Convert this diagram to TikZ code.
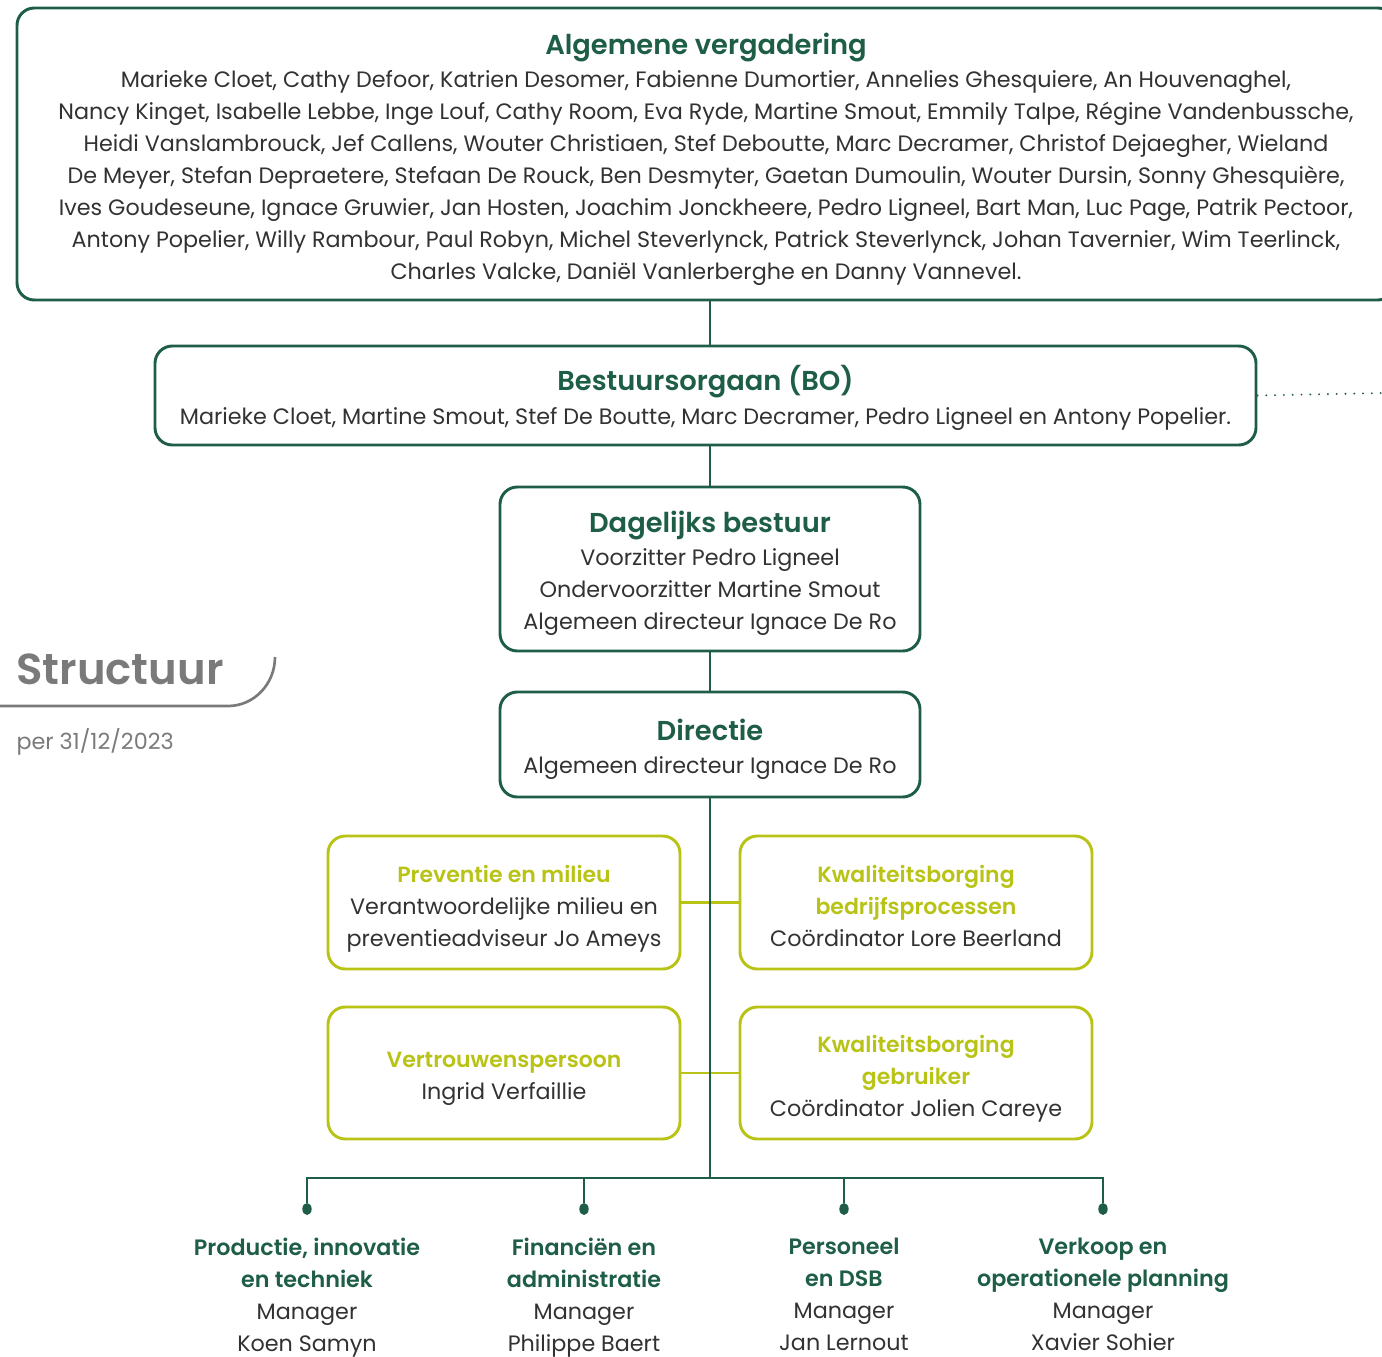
\documentclass[tikz,border=0pt]{standalone}
\usepackage{fontspec}
\IfFontExistsTF{Poppins SemiBold}
  {\setmainfont{Poppins}[BoldFont={Poppins SemiBold}]}
  {\setmainfont{Poppins}}
\usetikzlibrary{positioning,shapes.geometric}

\definecolor{dkgreen}{RGB}{30,94,70}
\definecolor{limegrn}{RGB}{184,195,22}
\definecolor{txtgray}{RGB}{50,50,50}
\definecolor{ttlgray}{RGB}{122,122,122}

\tikzset{every picture/.style={line width=0.75pt}}
\tikzset{
  greenbox/.style={draw=dkgreen, line width=2.2pt, rounded corners=13pt, inner sep=0pt},
  limebox/.style={greenbox, draw=limegrn},
  boxtext/.style={align=center, text=txtgray, font=\fontsize{16.7}{24}\selectfont, inner sep=0pt},
  link/.style={draw=dkgreen, line width=2.2pt},
  limelink/.style={draw=limegrn, line width=2.2pt},
  busdot/.style={ellipse, fill=dkgreen, inner sep=0pt, minimum width=7pt, minimum height=9pt},
}
\newcommand{\gtitle}[1]{{\color{dkgreen}\bfseries\fontsize{20.5}{24}\selectfont #1}}
\newcommand{\ltitle}[1]{{\color{limegrn}\bfseries\fontsize{16.5}{24}\selectfont #1}}
\newcommand{\utitle}[1]{{\color{dkgreen}\bfseries #1}}

\begin{document}
\begin{tikzpicture}[x=0.75pt,y=0.75pt,yscale=-1,xscale=1]
  \useasboundingbox (0,0) rectangle (1382,1357);
  \clip (0,0) rectangle (1382,1357);

  %Shape: Rounded Rectangle [algemene vergadering]
  \node[greenbox, minimum width=1033.5pt, minimum height=219pt] (av) at (706,154) {};
  % Text Node
  \node[boxtext] (avtxt) at (706,159) {%
    \gtitle{Algemene vergadering}\\[1pt]
    Marieke Cloet, Cathy Defoor, Katrien Desomer, Fabienne Dumortier, Annelies Ghesquiere, An Houvenaghel,\\
    Nancy Kinget, Isabelle Lebbe, Inge Louf, Cathy Room, Eva Ryde, Martine Smout, Emmily Talpe, Régine Vandenbussche,\\
    Heidi Vanslambrouck, Jef Callens, Wouter Christiaen, Stef Deboutte, Marc Decramer, Christof Dejaegher, Wieland\\
    De Meyer, Stefan Depraetere, Stefaan De Rouck, Ben Desmyter, Gaetan Dumoulin, Wouter Dursin, Sonny Ghesquière,\\
    Ives Goudeseune, Ignace Gruwier, Jan Hosten, Joachim Jonckheere, Pedro Ligneel, Bart Man, Luc Page, Patrik Pectoor,\\
    Antony Popelier, Willy Rambour, Paul Robyn, Michel Steverlynck, Patrick Steverlynck, Johan Tavernier, Wim Teerlinck,\\
    Charles Valcke, Daniël Vanlerberghe en Danny Vannevel.};

  %Shape: Rounded Rectangle [bestuursorgaan]
  \node[greenbox, minimum width=825.75pt, minimum height=74.25pt] (bo) at (705.5,395.5) {};
  % Text Node
  \node[boxtext] (botxt) at (705.5,398) {%
    \gtitle{Bestuursorgaan (BO)}\\[1pt]
    Marieke Cloet, Martine Smout, Stef De Boutte, Marc Decramer, Pedro Ligneel en Antony Popelier.};

  %Shape: Rounded Rectangle [dagelijks bestuur]
  \node[greenbox, minimum width=315pt, minimum height=123pt] (db) at (710,569) {};
  % Text Node
  \node[boxtext] (dbtxt) at (710,573.5) {%
    \gtitle{Dagelijks bestuur}\\[1pt]
    Voorzitter Pedro Ligneel\\
    Ondervoorzitter Martine Smout\\
    Algemeen directeur Ignace De Ro};

  %Shape: Rounded Rectangle [directie]
  \node[greenbox, minimum width=315pt, minimum height=78.75pt] (dir) at (710,744.5) {};
  % Text Node
  \node[boxtext] (dirtxt) at (710,749.5) {%
    \gtitle{Directie}\\[1pt]
    Algemeen directeur Ignace De Ro};

  %Shape: Rounded Rectangle [staf]
  \node[limebox, minimum width=264pt, minimum height=99.75pt] (prev) at (504,902.5) {};
  \node[limebox, minimum width=264pt, minimum height=99.75pt] (kbp) at (916,902.5) {};
  \node[limebox, minimum width=264pt, minimum height=99pt] (vtp) at (504,1073) {};
  \node[limebox, minimum width=264pt, minimum height=99pt] (kbg) at (916,1073) {};
  % Text Node
  \node[boxtext] (prevtxt) at (504,908.5) {%
    \ltitle{Preventie en milieu}\\
    Verantwoordelijke milieu en\\
    preventieadviseur Jo Ameys};
  % Text Node
  \node[boxtext] (kbptxt) at (916,905.5) {%
    \ltitle{Kwaliteitsborging}\\
    \ltitle{bedrijfsprocessen}\\
    Coördinator Lore Beerland};
  % Text Node
  \node[boxtext] (vtptxt) at (504,1079) {%
    \ltitle{Vertrouwenspersoon}\\
    Ingrid Verfaillie};
  % Text Node
  \node[boxtext] (kbgtxt) at (916,1079) {%
    \ltitle{Kwaliteitsborging}\\
    \ltitle{gebruiker}\\
    Coördinator Jolien Careye};

  % bus and afdelingen
  \coordinate (bus) at (710,1178);
  \coordinate (rand) at (1382,393);
  \node[busdot] (d1) at (307,1209) {};
  \node[busdot] (d2) at (584,1209) {};
  \node[busdot] (d3) at (844,1209) {};
  \node[busdot] (d4) at (1103,1209) {};

  % Text Node
  \node[boxtext, below=16.5pt of d1] (prod) {\utitle{Productie, innovatie}\\ \utitle{en techniek}\\ Manager\\ Koen Samyn};
  % Text Node
  \node[boxtext, below=16.5pt of d2] (fin) {\utitle{Financiën en}\\ \utitle{administratie}\\ Manager\\ Philippe Baert};
  % Text Node
  \node[boxtext, below=16.5pt of d3] (pers) {\utitle{Personeel}\\ \utitle{en DSB}\\ Manager\\ Jan Lernout};
  % Text Node
  \node[boxtext, below=16.5pt of d4] (verk) {\utitle{Verkoop en}\\ \utitle{operationele planning}\\ Manager\\ Xavier Sohier};

  %Straight Lines
  \draw[limelink] (prev.east) -- (kbp.west);
  \draw[limelink] (vtp.east) -- (kbg.west);
  \draw[link] (av.south -| dir.north) -- (bo.north -| dir.north);
  \draw[link] (bo.south -| dir.north) -- (db.north);
  \draw[link] (db) -- (dir);
  \draw[link] (dir.south) -- (bus);
  \draw[link] (d1) |- (bus) -| (d4);
  \draw[link] (d2) -- (d2 |- bus);
  \draw[link] (d3) -- (d3 |- bus);
  \draw[dkgreen, line width=1.6pt, line cap=round, dash pattern=on 0pt off 6.6pt] (bo.east) -- (rand);

  % Text Node
  \node[anchor=base west, inner sep=0pt, text=ttlgray, font=\bfseries\fontsize{32.5}{40}\selectfont] (titel) at (16,684) {Structuur};
  \coordinate (lijn) at (0,706);
  \draw[ttlgray, line width=2pt] (lijn) -- (228,706) .. controls (254,706) and (275,684) .. (275,657);
  % Text Node
  \node[anchor=base west, inner sep=0pt, text=ttlgray, font=\fontsize{16.7}{20}\selectfont] (datum) at (16,749) {per 31/12/2023};

\end{tikzpicture}
\end{document}
